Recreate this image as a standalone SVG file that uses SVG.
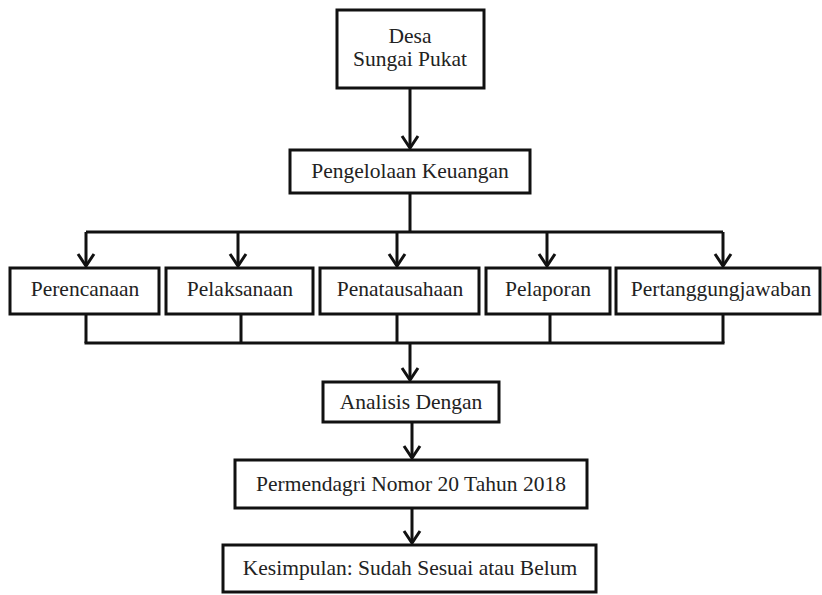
<svg xmlns="http://www.w3.org/2000/svg" width="822" height="595" viewBox="0 0 822 595">
<style>
.box{fill:#fff;stroke:#111;stroke-width:3}
.t{font-family:"Liberation Serif","Times New Roman",serif;font-size:21.5px;fill:#222;text-anchor:middle}
.c{fill:none;stroke:#111;stroke-width:3}
</style>
<defs>
<marker id="ah" markerUnits="userSpaceOnUse" orient="auto" refX="0" refY="0" markerWidth="20" markerHeight="20" overflow="visible">
<path d="M-12,-8 L0,0 L-12,8" fill="none" stroke="#111" stroke-width="3"/>
</marker>
</defs>
<rect width="822" height="595" fill="#fff"/>
<g id="connectors">
<line class="c" x1="410" y1="88" x2="410" y2="148" marker-end="url(#ah)"/>
<line class="c" x1="410" y1="193" x2="410" y2="232"/>
<line class="c" x1="86" y1="232" x2="723" y2="232"/>
<line class="c" x1="86" y1="232" x2="86" y2="266" marker-end="url(#ah)"/>
<line class="c" x1="238" y1="232" x2="238" y2="266" marker-end="url(#ah)"/>
<line class="c" x1="397" y1="232" x2="397" y2="266" marker-end="url(#ah)"/>
<line class="c" x1="547" y1="232" x2="547" y2="266" marker-end="url(#ah)"/>
<line class="c" x1="723" y1="232" x2="723" y2="266" marker-end="url(#ah)"/>
<line class="c" x1="86" y1="314" x2="86" y2="343"/>
<line class="c" x1="241" y1="314" x2="241" y2="343"/>
<line class="c" x1="397" y1="314" x2="397" y2="343"/>
<line class="c" x1="550" y1="314" x2="550" y2="343"/>
<line class="c" x1="723" y1="314" x2="723" y2="343"/>
<line class="c" x1="84.5" y1="343" x2="724.5" y2="343"/>
<line class="c" x1="410" y1="343" x2="410" y2="380" marker-end="url(#ah)"/>
<line class="c" x1="412" y1="422" x2="412" y2="458" marker-end="url(#ah)"/>
<line class="c" x1="412" y1="508" x2="412" y2="543" marker-end="url(#ah)"/>
</g>
<g id="desa"><rect class="box" x="337" y="10" width="147" height="78"/><text class="t" x="410" y="43">Desa</text><text class="t" x="410" y="66">Sungai Pukat</text></g>
<g id="pengelolaan"><rect class="box" x="290" y="150" width="240" height="43"/><text class="t" x="410" y="178">Pengelolaan Keuangan</text></g>
<g id="perencanaan"><rect class="box" x="10" y="268" width="149" height="46"/><text class="t" x="85" y="296">Perencanaan</text></g>
<g id="pelaksanaan"><rect class="box" x="166" y="268" width="147" height="46"/><text class="t" x="240" y="296">Pelaksanaan</text></g>
<g id="penatausahaan"><rect class="box" x="320" y="268" width="159" height="46"/><text class="t" x="400" y="296">Penatausahaan</text></g>
<g id="pelaporan"><rect class="box" x="486" y="268" width="124" height="46"/><text class="t" x="548" y="296">Pelaporan</text></g>
<g id="pertanggungjawaban"><rect class="box" x="616" y="268" width="204" height="46"/><text class="t" x="721" y="296">Pertanggungjawaban</text></g>
<g id="analisis"><rect class="box" x="323" y="382" width="176" height="40"/><text class="t" x="411" y="409">Analisis Dengan</text></g>
<g id="permendagri"><rect class="box" x="235" y="460" width="352" height="48"/><text class="t" x="411" y="491">Permendagri Nomor 20 Tahun 2018</text></g>
<g id="kesimpulan"><rect class="box" x="223" y="545" width="373" height="47"/><text class="t" x="410" y="575">Kesimpulan: Sudah Sesuai atau Belum</text></g>
</svg>
